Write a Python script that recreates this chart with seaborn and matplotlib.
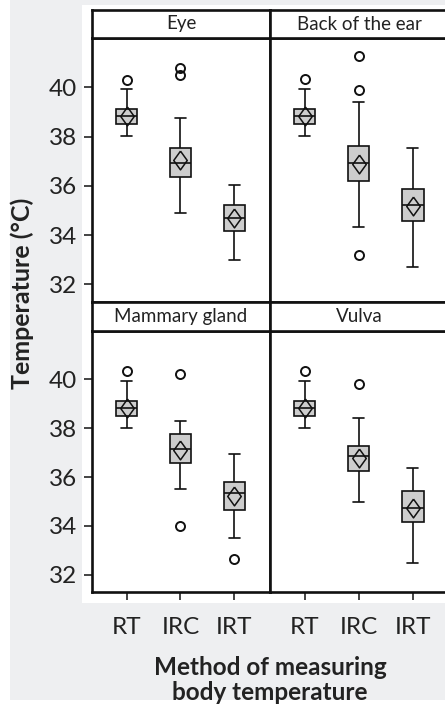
import seaborn as sns
import matplotlib.pyplot as plt
from matplotlib.patches import Rectangle
import pandas as pd

sites = ["Eye", "Back of the ear", "Mammary gland", "Vulva"]
methods = ["RT", "IRC", "IRT"]

# one entry per (site, method), in the order of sites x methods
whisker_low = [38.01, 34.91, 32.98,
               38.02, 34.33, 32.71,
               38.01, 35.51, 33.52,
               38.01, 34.98, 32.48]
q1 = [38.50, 36.34, 34.15,
      38.51, 36.18, 34.57,
      38.49, 36.56, 34.63,
      38.49, 36.26, 34.15]
median = [38.83, 36.94, 34.71,
          38.84, 36.94, 35.21,
          38.83, 37.16, 35.36,
          38.83, 36.87, 34.73]
q3 = [39.13, 37.54, 35.22,
      39.13, 37.61, 35.89,
      39.13, 37.77, 35.78,
      39.13, 37.28, 35.41]
whisker_high = [39.92, 38.76, 36.04,
                39.92, 39.39, 37.55,
                39.92, 38.30, 36.93,
                39.92, 38.41, 36.37]
means = [38.83, 37.03, 34.71,
         38.83, 36.90, 35.20,
         38.83, 37.12, 35.21,
         38.83, 36.78, 34.73]
outliers = [[40.30], [40.50, 40.78], [],
            [40.34], [41.25, 39.89, 33.20], [],
            [40.33], [40.22, 34.00], [32.63],
            [40.35], [39.81], []]

W, H = 445, 706
DIAMOND = [(0, 1), (0.72, 0), (0, -1), (-0.72, 0), (0, 1)]


def build_frames():
    rows, mrows = [], []
    i = 0
    for site in sites:
        for m in methods:
            # sample whose quartiles / whiskers match the read-off summary
            vals = [whisker_low[i]] + [q1[i]] * 20 + [median[i]] * 20 \
                + [q3[i]] * 20 + [whisker_high[i]] + outliers[i]
            rows += [(site, m, v) for v in vals]
            mrows.append((site, m, means[i]))
            i += 1
    return (pd.DataFrame(rows, columns=["site", "method", "temp"]),
            pd.DataFrame(mrows, columns=["site", "method", "mean"]))


def px_box(x0, y0, x1, y1):
    # pixel rectangle (top-left origin) -> figure fraction
    return [x0 / W, 1 - y1 / H, (x1 - x0) / W, (y1 - y0) / H]


data, mean_data = build_frames()

sns.set_style("white")
plt.rcParams["font.family"] = ["Lato", "DejaVu Sans"]

fig = plt.figure(figsize=(W / 100, H / 100), dpi=100)
fig.patches.append(Rectangle((10 / W, 6 / H), 1, 1, transform=fig.transFigure,
                             facecolor="#eeeff1", edgecolor="none", zorder=-10))
fig.patches.append(Rectangle((82 / W, 1 - 603 / H), 1, 598 / H, transform=fig.transFigure,
                             facecolor="white", edgecolor="none", zorder=-9))

cols = [(92, 270), (270, 448.4)]
body_rows = [(38, 301.7), (330.7, 591.7)]
strip_rows = [(10, 38), (301.7, 330.7)]

for k, site in enumerate(sites):
    r, c = divmod(k, 2)
    x0, x1 = cols[c]
    ax = fig.add_axes(px_box(x0, body_rows[r][0], x1, body_rows[r][1]))
    sub = data[data.site == site]
    sns.boxplot(data=sub, x="method", y="temp", order=methods, ax=ax,
                width=0.4, color="#cdcdcd", saturation=1, linecolor="#111111",
                linewidth=1.2,
                flierprops=dict(marker="o", markerfacecolor="none",
                                markeredgecolor="#111111", markeredgewidth=1.4,
                                markersize=6.5))
    sns.pointplot(data=mean_data[mean_data.site == site], x="method", y="mean",
                  order=methods, ax=ax, errorbar=None, linestyle="none",
                  marker=DIAMOND, markersize=13.5, markerfacecolor="none",
                  markeredgecolor="#111111", markeredgewidth=1.1, color="#111111")
    ax.set_xlim(-0.64, 2.66)
    ax.set_ylim(31.3, 42.0)
    ax.set_yticks([32, 34, 36, 38, 40])
    ax.set_xlabel("")
    ax.set_ylabel("")
    for s in ax.spines.values():
        s.set_visible(True)
        s.set_linewidth(1.9)
        s.set_color("#111111")
    ax.tick_params(axis="both", length=6, width=1.1, color="#111111",
                   labelsize=17.5, labelcolor="#222222")
    ax.tick_params(axis="x", pad=12)
    ax.tick_params(axis="y", pad=5)
    if r == 0:
        ax.tick_params(axis="x", bottom=False, labelbottom=False)
    else:
        ax.tick_params(axis="x", bottom=True)
    if c == 1:
        ax.tick_params(axis="y", left=False, labelleft=False)
    else:
        ax.tick_params(axis="y", left=True)

    # facet strip
    sax = fig.add_axes(px_box(x0, strip_rows[r][0], x1, strip_rows[r][1]))
    sax.set_xticks([])
    sax.set_yticks([])
    for s in sax.spines.values():
        s.set_visible(True)
        s.set_linewidth(1.9)
        s.set_color("#111111")
    sax.text(0.5, 0.5, site, ha="center", va="center", fontsize=13.5,
             color="#222222", transform=sax.transAxes)

fig.text(22 / W, 1 - 293 / H, "Temperature (°C)", rotation=90, ha="center",
         va="center", fontsize=18, fontweight="bold", color="#222222")
fig.text(270 / W, 1 - 680 / H, "Method of measuring\nbody temperature",
         ha="center", va="center", fontsize=17.5, fontweight="bold",
         color="#222222", linespacing=1.15)

plt.savefig("out.png", dpi=100)
